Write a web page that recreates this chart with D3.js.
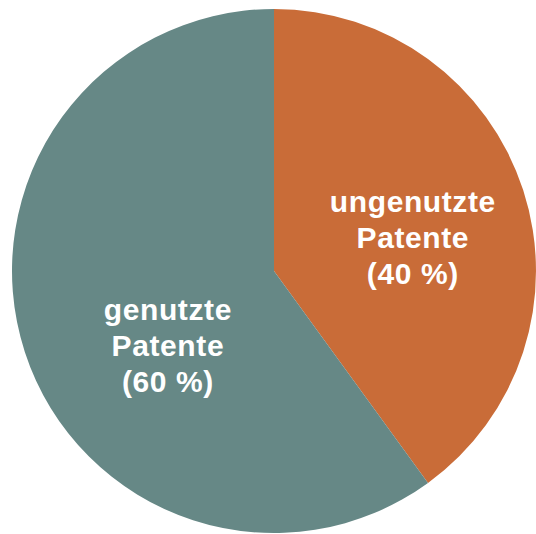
<!DOCTYPE html>
<html lang="de">
<head>
  <meta charset="utf-8" />
  <title>Patente</title>
  <script src="https://d3js.org/d3.v7.min.js"></script>
  <style>
    body { margin: 0; background: #fff; }
    .label {
      font-family: "Liberation Sans", Arial, sans-serif;
      font-weight: bold;
      font-size: 30px;
      letter-spacing: 0.6px;
      fill: #fff;
    }
  </style>
</head>
<body>
<svg id="chart" width="536" height="534"></svg>
<script>
var categories = ["ungenutzte Patente", "genutzte Patente"];
var values = [40, 60];
var labelLines = [["ungenutzte", "Patente", "(40 %)"], ["genutzte", "Patente", "(60 %)"]];
var colors = ["#C96C38", "#668886"];

drawPie(536, 534);

function drawPie(width, height) {
  var svg = d3.select("#chart");
  var cx = 274, cy = 271, radius = 262;

  var data = categories.map(function(c, i) {
    return { name: c, value: values[i], lines: labelLines[i] };
  });

  var pie = d3.pie()
              .sort(null)
              .value(function(d) { return d.value; });

  var arc = d3.arc().innerRadius(0).outerRadius(radius);

  var g = svg.append("g")
             .attr("transform", "translate(" + cx + "," + cy + ")");

  var arcs = pie(data);

  g.selectAll("path")
   .data(arcs)
   .enter().append("path")
   .attr("d", arc)
   .attr("fill", function(d, i) { return colors[i]; });

  // label placement: centroid on an inner ring, nudged to match the original
  var labelArc = [d3.arc().innerRadius(292).outerRadius(0),
                  d3.arc().innerRadius(240).outerRadius(0)];
  var nudge = [[0, 12], [8, 38]];

  var label = g.selectAll("text")
               .data(arcs)
               .enter().append("text")
               .attr("class", "label")
               .attr("text-anchor", "middle")
               .attr("transform", function(d, i) {
                 var c = labelArc[i].centroid(d);
                 return "translate(" + (c[0] + nudge[i][0]) + "," + (c[1] + nudge[i][1]) + ")";
               });

  label.selectAll("tspan")
       .data(function(d) { return d.data.lines; })
       .enter().append("tspan")
       .attr("x", 0)
       .attr("y", function(d, i) { return (i - 1) * 36 + 10; })
       .text(function(d) { return d; });
}
</script>
</body>
</html>
